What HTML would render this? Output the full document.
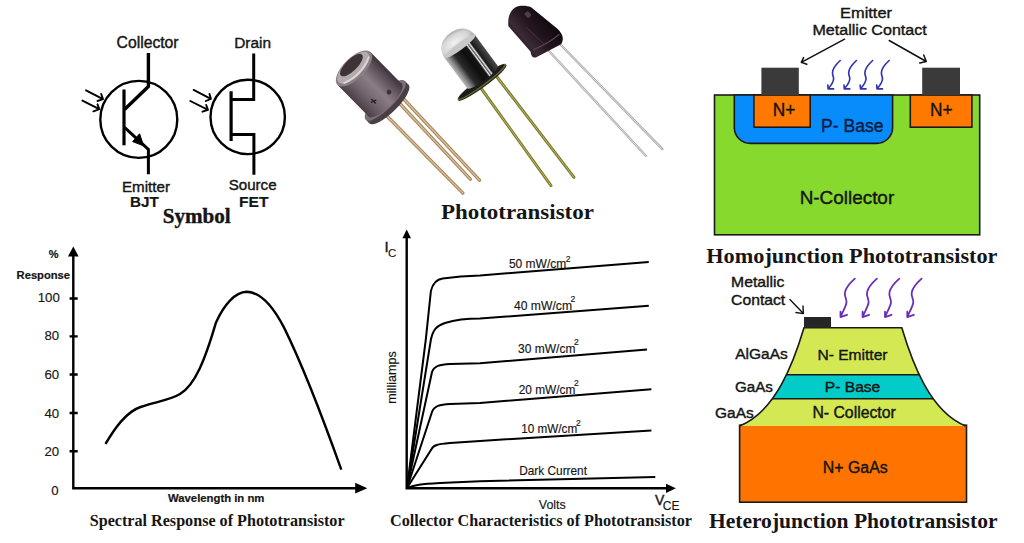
<!DOCTYPE html>
<html><head><meta charset="utf-8">
<style>
html,body{margin:0;padding:0;background:#fff;}
body{width:1024px;height:543px;overflow:hidden;}
svg{display:block;}
.s{font-family:"Liberation Sans",sans-serif;fill:#151515;stroke:#151515;stroke-width:0.4px;}
.t{stroke-width:0.15px;}
.sb{font-family:"Liberation Sans",sans-serif;font-weight:bold;fill:#151515;stroke:#151515;stroke-width:0.2px;}
.rb{font-family:"Liberation Serif",serif;font-weight:bold;fill:#151515;}
</style></head><body>
<svg width="1024" height="543" viewBox="0 0 1024 543">
<rect width="1024" height="543" fill="#fff"/>

<!-- ===== SYMBOLS ===== -->
<g id="sym" stroke="#000" fill="none" stroke-width="3">
  <!-- BJT -->
  <circle cx="138.8" cy="119.4" r="38.5" stroke-width="2.4"/>
  <path d="M148.4 53 V86.6 L124.5 109.5" stroke-width="3.4"/>
  <path d="M124 89.5 V145.3" stroke-width="3.2"/>
  <path d="M124.5 127.4 L148.4 149.5 V174.3" stroke-width="3"/>
  <path d="M143.6 145.8 L139.6 133.8 L132.6 141.6 Z" fill="#000" stroke-width="1"/>
  <g stroke-width="1.9" stroke-linecap="round" stroke-linejoin="round">
    <path d="M86 90.3 L103 99.1 M101.2 94 L103 99.1 L97.5 101"/>
    <path d="M82.4 100.6 L99.3 109.1 M97.5 104.3 L99.3 109.1 L93.4 111.3"/>
  </g>
  <!-- FET -->
  <circle cx="247.7" cy="116.9" r="37.2" stroke-width="2.4"/>
  <path d="M253.7 53.4 V99.4 H231"/>
  <path d="M231.1 91.3 V141" stroke-width="3.2"/>
  <path d="M231 134.5 H253.9 V174.7"/>
  <g stroke-width="1.9" stroke-linecap="round" stroke-linejoin="round">
    <path d="M193.6 89.9 L210.9 98.8 M209.5 94 L210.9 98.8 L205.8 101"/>
    <path d="M190.3 101 L208 109.8 M206.2 105 L208 109.8 L202.5 111.7"/>
  </g>
</g>
<g class="s">
  <text class="s" x="116.6" y="47.7" font-size="15.7" textLength="62" lengthAdjust="spacingAndGlyphs">Collector</text>
  <text class="s" x="122" y="191.5" font-size="15.2" textLength="48" lengthAdjust="spacingAndGlyphs">Emitter</text>
  <text class="sb" x="130" y="206.6" font-size="15" textLength="28.8" lengthAdjust="spacingAndGlyphs">BJT</text>
  <text class="s" x="234.2" y="47.8" font-size="15.4" textLength="36.8" lengthAdjust="spacingAndGlyphs">Drain</text>
  <text class="s" x="228.7" y="190" font-size="15.1" textLength="47.9" lengthAdjust="spacingAndGlyphs">Source</text>
  <text class="sb" x="239" y="207.2" font-size="15" textLength="29.4" lengthAdjust="spacingAndGlyphs">FET</text>
  <text class="rb" x="162.7" y="223" font-size="21.5" textLength="68" lengthAdjust="spacingAndGlyphs">Symbol</text>
</g>

<!-- ===== PHOTOS placeholder ===== -->
<g id="photos">
  <defs>
    <linearGradient id="c1body" x1="0" y1="0" x2="1" y2="0">
      <stop offset="0" stop-color="#4a3d46"/>
      <stop offset="0.25" stop-color="#6e6068"/>
      <stop offset="0.55" stop-color="#8a7e86"/>
      <stop offset="0.8" stop-color="#62545c"/>
      <stop offset="1" stop-color="#3e333a"/>
    </linearGradient>
    <linearGradient id="c1flange" x1="0" y1="0" x2="1" y2="0">
      <stop offset="0" stop-color="#5a4c55"/>
      <stop offset="0.5" stop-color="#8c8088"/>
      <stop offset="1" stop-color="#4a3e46"/>
    </linearGradient>
    <linearGradient id="c2body" x1="0" y1="0" x2="1" y2="0">
      <stop offset="0" stop-color="#b8b8b8"/>
      <stop offset="0.1" stop-color="#8a8a8a"/>
      <stop offset="0.25" stop-color="#2a2a2a"/>
      <stop offset="0.5" stop-color="#0e0e0e"/>
      <stop offset="0.64" stop-color="#151515"/>
      <stop offset="0.68" stop-color="#f0f0f0"/>
      <stop offset="0.71" stop-color="#505050"/>
      <stop offset="0.75" stop-color="#e8e8e8"/>
      <stop offset="0.79" stop-color="#1a1a1a"/>
      <stop offset="1" stop-color="#4a4a4a"/>
    </linearGradient>
    <radialGradient id="c2dome" cx="0.45" cy="0.6" r="0.6">
      <stop offset="0" stop-color="#f2f2f2"/>
      <stop offset="0.7" stop-color="#d4d4d4"/>
      <stop offset="1" stop-color="#a8a8a8"/>
    </radialGradient>
    <linearGradient id="c3body" gradientUnits="userSpaceOnUse" x1="513" y1="45" x2="546" y2="18">
      <stop offset="0" stop-color="#1a0f18"/>
      <stop offset="0.3" stop-color="#3a2a36"/>
      <stop offset="0.6" stop-color="#24161f"/>
      <stop offset="1" stop-color="#120a10"/>
    </linearGradient>
  </defs>
  <!-- component 1 leads -->
  <g stroke-linecap="round">
    <path d="M382 111 L462.9 193.1" stroke="#a8885e" stroke-width="3.4"/>
    <path d="M382 111 L462.9 193.1" stroke="#dcc4a2" stroke-width="1.1"/>
    <path d="M396 99.5 L470.3 179.2" stroke="#a8885e" stroke-width="3.4"/>
    <path d="M396 99.5 L470.3 179.2" stroke="#dcc4a2" stroke-width="1.1"/>
    <path d="M401.8 97 L479.5 180.2" stroke="#a8885e" stroke-width="3.4"/>
    <path d="M401.8 97 L479.5 180.2" stroke="#dcc4a2" stroke-width="1.1"/>
  </g>
  <!-- component 1 body -->
  <g transform="translate(355.5 70) rotate(-44.5) scale(1.06)">
    <ellipse cx="0" cy="45" rx="26" ry="8" fill="#4a3e46"/>
    <rect x="-26" y="40" width="52" height="5" fill="url(#c1flange)"/>
    <ellipse cx="0" cy="40" rx="26" ry="8" fill="#7a6e76"/>
    <rect x="-22" y="-2" width="44" height="42" fill="url(#c1body)"/>
    <ellipse cx="0" cy="40" rx="22" ry="7" fill="url(#c1body)"/>
    <ellipse cx="0" cy="-2" rx="22" ry="10" fill="#8a7f84"/>
    <ellipse cx="0" cy="-3" rx="19.5" ry="8.5" fill="#b2abac"/>
    <ellipse cx="0.5" cy="-6" rx="14" ry="5.5" fill="#3e3338"/>
    <path d="M-17 1 Q0 8 18 0" stroke="#dcd6d6" stroke-width="1.8" fill="none"/>
    <path d="M-11 32 l5 2 M-8.5 30 v6" stroke="#2a2228" stroke-width="1.3" fill="none"/>
    <circle cx="8" cy="37" r="2.2" fill="#3a3035"/>
  </g>
  <!-- component 2 leads -->
  <g stroke-linecap="round">
    <path d="M478 84 L551 185.6" stroke="#7c7a2a" stroke-width="3"/>
    <path d="M478 84 L551 185.6" stroke="#b8b66a" stroke-width="1"/>
    <path d="M494.7 74 L574 177.3" stroke="#7c7a2a" stroke-width="3"/>
    <path d="M494.7 74 L574 177.3" stroke="#b8b66a" stroke-width="1"/>
  </g>
  <!-- component 2 body -->
  <g transform="translate(459.5 46.1) rotate(-36.5)">
    <ellipse cx="-3.4" cy="43" rx="30" ry="4.5" fill="#2a2a1a"/>
    <ellipse cx="-3.4" cy="42" rx="30" ry="4.2" fill="#6a6836"/>
    <ellipse cx="-3.4" cy="41.5" rx="28.5" ry="3.4" fill="#1c1c1c"/>
    <rect x="-19" y="0" width="38" height="38.5" fill="url(#c2body)"/>
    <ellipse cx="0" cy="38.5" rx="19" ry="4" fill="url(#c2body)"/>
    <path d="M-19 1 C-19 -10 -11 -16 0 -16 C11 -16 19 -10 19 1 C12 -2 -12 -2 -19 1 Z" fill="url(#c2dome)"/>
    <ellipse cx="0" cy="0.5" rx="19" ry="3.5" fill="#c8c8c8"/>
  </g>
  <!-- component 3 leads -->
  <g stroke-linecap="round">
    <path d="M548 50 L645.8 155.8" stroke="#a9a9a9" stroke-width="2.4"/>
    <path d="M548 50 L645.8 155.8" stroke="#e8e8e8" stroke-width="0.9"/>
    <path d="M556 40 L662.4 149.2" stroke="#a9a9a9" stroke-width="2.4"/>
    <path d="M556 40 L662.4 149.2" stroke="#e8e8e8" stroke-width="0.9"/>
  </g>
  <!-- component 3 body -->
  <path d="M508.4 26.3 C507.5 18 509.5 11 515.6 7.2 C520 5 527 5.5 531.1 7.2 L557.4 28.7 C560 31 562.8 35 562.8 38.3 C562.8 41 562 43 561 44.3 L535.9 57.4 C533.5 58 531.5 57.5 530.5 51.5 Z" fill="url(#c3body)"/>
  <path d="M533 50 C542 46 553 40 559.5 34" stroke="#5e4252" stroke-width="1.1" fill="none"/>
  <path d="M526.3 27.5 L544.3 44.3" stroke="#4a3444" stroke-width="0.9" fill="none"/>
  <rect x="0" y="0" width="5" height="6" rx="1.5" fill="#4e3e4a" transform="translate(524 14) rotate(-42)"/>
</g>
</g>

<text class="rb" x="440.9" y="218.5" font-size="21.7" textLength="153" lengthAdjust="spacingAndGlyphs">Phototransistor</text>

<!-- ===== HOMOJUNCTION ===== -->
<g id="homo" stroke="#1a1a1a" stroke-width="1.6">
  <rect x="714.5" y="95" width="265.2" height="139.8" fill="#87d92e"/>
  <path d="M734.3 95 V127.5 A16 16 0 0 0 750.3 143.4 H876.6 A16 16 0 0 0 892.6 127.5 V95 Z" fill="#088cfc"/>
  <rect x="753.9" y="95" width="56.3" height="32.2" fill="#ff7800"/>
  <rect x="910.3" y="95" width="61.6" height="32.2" fill="#ff7800"/>
  <rect x="761.4" y="67.7" width="37.4" height="27.3" fill="#3a3a3a" stroke="none"/>
  <rect x="922.2" y="67.7" width="37.8" height="27.3" fill="#3a3a3a" stroke="none"/>
</g>
<g>
  <text class="s" x="840.1" y="17.5" font-size="15.5" textLength="51.9" lengthAdjust="spacingAndGlyphs">Emitter</text>
  <text class="s" x="812.5" y="35" font-size="15.5" textLength="114.2" lengthAdjust="spacingAndGlyphs">Metallic Contact</text>
  <text class="s" x="772.7" y="116.4" font-size="18" textLength="22.5" lengthAdjust="spacingAndGlyphs">N+</text>
  <text class="s" x="930" y="116.4" font-size="18" textLength="22.5" lengthAdjust="spacingAndGlyphs">N+</text>
  <text class="s" x="821" y="131.7" font-size="17.5" textLength="62.5" lengthAdjust="spacingAndGlyphs" style="fill:#0c1c40;stroke:#0c1c40">P- Base</text>
  <text class="s" x="799.7" y="203.8" font-size="18.5" textLength="94.5" lengthAdjust="spacingAndGlyphs">N-Collector</text>
  <text class="rb" x="706.3" y="263.3" font-size="21.6" textLength="291.2" lengthAdjust="spacingAndGlyphs">Homojunction Phototransistor</text>
</g>

<g stroke="#111" stroke-width="1.5" fill="none" stroke-linecap="round" stroke-linejoin="round">
  <path d="M844.6 39.2 L801.3 62.4 M803.6 57.6 L801.3 62.4 L806.8 64.3"/>
  <path d="M889.2 40.5 L926.3 61.5 M923.7 55 L926.3 61.5 L919.8 63.1"/>
</g>
<g stroke="#3431b2" stroke-width="1.65" fill="none" stroke-linecap="round" stroke-linejoin="round">
  <path id="wv1" d="M840.25 60.5 C837 63.5 832.5 67.5 832.5 72.7 C832.5 76 833.8 77 833.6 79 C833.4 82 831 85.5 828.1 88.9 M827.8 85 L828.1 88.9 L833.6 88.9"/>
  <use href="#wv1" x="16.2"/>
  <use href="#wv1" x="32.4"/>
  <use href="#wv1" x="48.9"/>
</g>

<!-- ===== HETEROJUNCTION ===== -->
<g id="hetero" stroke="#1a1a1a" stroke-width="1.6">
  <defs><clipPath id="hclip"><path id="hshape" d="M804 327.8 H901.8 C912 362 930 412 965.6 426 H739.6 C775.6 412 793.8 362 804 327.8 Z"/></clipPath></defs>
  <rect x="739.6" y="425.2" width="226.9" height="77" fill="#ff7400"/>
  <path d="M804 327.8 H901.8 C912 362 930 412 965.6 426 H739.6 C775.6 412 793.8 362 804 327.8 Z" fill="#d4e854" stroke="none"/>
  <rect x="730" y="374.8" width="250" height="24" fill="#02cbc8" clip-path="url(#hclip)" stroke="none"/>
  <path d="M780 374.8 H930 M760 398.8 H945" clip-path="url(#hclip)"/>
  <path d="M739.6 426 C775.6 412 793.8 362 804 327.8 H901.8 C912 362 930 412 965.6 426" fill="none"/>
  <rect x="804" y="317" width="27" height="10.8" fill="#262626" stroke="none"/>
</g>
<g stroke="#111" stroke-width="1.4" fill="none" stroke-linecap="round" stroke-linejoin="round">
  <path d="M789.9 299.4 L803.4 313.6 M803 306 L803.4 313.6 L796 312.5"/>
</g>
<g stroke="#6a2db8" stroke-width="1.8" fill="none" stroke-linecap="round" stroke-linejoin="round">
  <path id="wv2" d="M854.8 278.6 C851 282 846 287.5 845 292 C844 296 846.8 299 846.5 302.4 C846.2 306 842.5 312 840.5 317.1 M840.5 311.6 L840.5 317.1 L847 314.8"/>
  <use href="#wv2" x="22.1"/>
  <use href="#wv2" x="44.5"/>
  <use href="#wv2" x="66.8"/>
</g>

<g>
  <text class="s" x="731.1" y="287.3" font-size="14.5" textLength="53.3" lengthAdjust="spacingAndGlyphs">Metallic</text>
  <text class="s" x="731.1" y="305.1" font-size="14.5" textLength="54.1" lengthAdjust="spacingAndGlyphs">Contact</text>
  <text class="s" x="735.2" y="359.2" font-size="15.5" textLength="52.6" lengthAdjust="spacingAndGlyphs">AlGaAs</text>
  <text class="s" x="734.9" y="391.6" font-size="15.2" textLength="38" lengthAdjust="spacingAndGlyphs">GaAs</text>
  <text class="s" x="715" y="417.5" font-size="15.2" textLength="38.7" lengthAdjust="spacingAndGlyphs">GaAs</text>
  <text class="s" x="817.4" y="359.6" font-size="15.5" textLength="70.1" lengthAdjust="spacingAndGlyphs">N- Emitter</text>
  <text class="s" x="824.8" y="391.7" font-size="15.5" textLength="55.5" lengthAdjust="spacingAndGlyphs">P- Base</text>
  <text class="s" x="812.4" y="417.6" font-size="15.8" textLength="83.4" lengthAdjust="spacingAndGlyphs">N- Collector</text>
  <text class="s" x="822.8" y="472.7" font-size="15.8" textLength="64.9" lengthAdjust="spacingAndGlyphs">N+ GaAs</text>
  <text class="rb" x="708.9" y="528.1" font-size="21.5" textLength="288.6" lengthAdjust="spacingAndGlyphs">Heterojunction Phototransistor</text>
</g>

<!-- ===== SPECTRAL ===== -->
<g stroke="#000" fill="none" stroke-width="2.4">
  <path d="M73.3 256 V488.2 H356"/>
  <path d="M69.6 298.5 H77.7 M69.6 336.4 H77.7 M69.6 374.5 H77.7 M69.6 413 H77.7 M69.6 451.3 H77.7"/>
  <path d="M105.5 443.9 C115 428 126 412 140.5 407 C155 402 170 400 180 394 C195 385 205 360 216 322.4 C224 305 235 292 246.6 291.8 C262 292 275 310 284.2 327.9 C300 360 320 410 341.3 469.7"/>
</g>
<path d="M73.3 246.4 L78.6 256.4 H68 Z" fill="#000"/>
<path d="M367.3 488.2 L355.2 482.8 V493.6 Z" fill="#000"/>
<g>
  <text class="sb" x="48.8" y="258.4" font-size="11">%</text>
  <text class="sb" x="16.6" y="278.7" font-size="11.2" textLength="53.4" lengthAdjust="spacingAndGlyphs">Response</text>
  <text class="s t" x="37.7" y="301.7" font-size="13.2" textLength="22.1" lengthAdjust="spacingAndGlyphs">100</text>
  <text class="s t" x="44.5" y="340" font-size="13.2">80</text>
  <text class="s t" x="44.5" y="379.2" font-size="13.2">60</text>
  <text class="s t" x="44.5" y="417.6" font-size="13.2">40</text>
  <text class="s t" x="44.5" y="456" font-size="13.2">20</text>
  <text class="s t" x="51.3" y="495.2" font-size="13.2">0</text>
  <text class="sb" x="168" y="501.8" font-size="11.3" textLength="96.4" lengthAdjust="spacingAndGlyphs">Wavelength in nm</text>
  <text class="rb" x="89.7" y="526" font-size="16.5" textLength="254.9" lengthAdjust="spacingAndGlyphs">Spectral Response of Phototransistor</text>
</g>

<!-- ===== COLLECTOR CHARACTERISTICS ===== -->
<g stroke="#000" fill="none" stroke-width="2.4">
  <path d="M406.7 237 V488.3 H666"/>
  <g stroke-width="2.0">
  <path d="M407 488 L425.8 339.5 L430.9 290.9 C433 282 438 279 442.7 278.4 C460 276 480 275.5 480 275.5 L648.8 261.9"/>
  <path d="M407 488 L430.9 339.5 C433 330 436 326 445 323 C455 320 470 318.6 480 318.6 L648.8 305.7"/>
  <path d="M407 488 L432 372 C434 366 440 364.5 450 364 L480 363.2 L647 349.5"/>
  <path d="M407 488 L432 412 C434 406 440 404.5 450 404 L480 403 L651.4 389.3"/>
  <path d="M407 488 L431.4 449.4 C433 445 438 444 450 443 L480 440.9 L651.4 430.6"/>
  <path d="M407 488 C415 485 420 484 440 483 L480 481.3 L655.3 477"/>
  </g>
</g>
<path d="M406.7 229.5 L411 238.3 H402.4 Z" fill="#000"/>
<path d="M675.9 488.3 L666 483.7 V492.9 Z" fill="#000"/>
<g>
  <text class="s" x="384.6" y="252" font-size="15">I</text>
  <text class="s t" x="387.9" y="256.7" font-size="11.5">C</text>
  <text class="s t" transform="translate(395.6 403.7) rotate(-90)" x="0" y="0" font-size="12.6" textLength="52.5" lengthAdjust="spacingAndGlyphs">milliamps</text>
  <text class="s t" x="508.9" y="267.8" font-size="12" textLength="57.4" lengthAdjust="spacingAndGlyphs">50 mW/cm</text>
  <text class="s t" x="565.8" y="262" font-size="8.5">2</text>
  <text class="s t" x="514" y="309.6" font-size="12" textLength="58" lengthAdjust="spacingAndGlyphs">40 mW/cm</text>
  <text class="s t" x="570.5" y="302" font-size="8.5">2</text>
  <text class="s t" x="518.1" y="352.9" font-size="12" textLength="57.3" lengthAdjust="spacingAndGlyphs">30 mW/cm</text>
  <text class="s t" x="574" y="345" font-size="8.5">2</text>
  <text class="s t" x="518.7" y="393.7" font-size="12" textLength="56.7" lengthAdjust="spacingAndGlyphs">20 mW/cm</text>
  <text class="s t" x="574" y="386" font-size="8.5">2</text>
  <text class="s t" x="521.2" y="433.1" font-size="12" textLength="56" lengthAdjust="spacingAndGlyphs">10 mW/cm</text>
  <text class="s t" x="576" y="425.5" font-size="8.5">2</text>
  <text class="s t" x="519.2" y="475.2" font-size="12" textLength="67.8" lengthAdjust="spacingAndGlyphs">Dark Current</text>
  <text class="s t" x="538.8" y="508.7" font-size="13" textLength="27" lengthAdjust="spacingAndGlyphs">Volts</text>
  <text class="s" x="655" y="505" font-size="14">V</text>
  <text class="s t" x="662.8" y="510.3" font-size="12">CE</text>
  <text class="rb" x="390" y="526.2" font-size="16.5" textLength="301.9" lengthAdjust="spacingAndGlyphs">Collector Characteristics of Phototransistor</text>
</g>
</svg>
</body></html>
